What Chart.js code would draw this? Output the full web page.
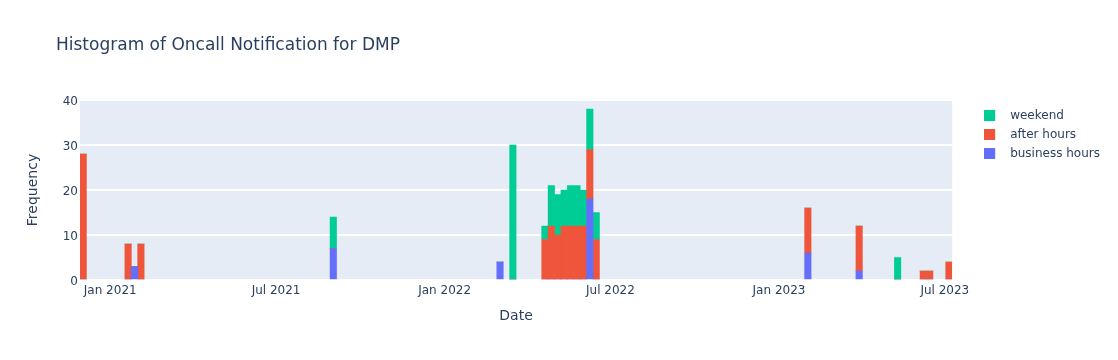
<!DOCTYPE html>
<html>
<head>
<meta charset="utf-8">
<script src="https://cdn.jsdelivr.net/npm/chart.js@4.4.1/dist/chart.umd.min.js"></script>
<style>
html,body{margin:0;padding:0;background:#ffffff;}
#wrap{width:1118px;height:360px;}
</style>
</head>
<body>
<div id="wrap"><canvas id="c" width="1118" height="360"></canvas></div>
<script>
// ---- data (weekly bins, start date of each bin) ----
const binStarts = ['2020-11-29','2021-01-17','2021-01-24','2021-01-31','2021-08-29','2022-02-27','2022-03-13',
  '2022-04-17','2022-04-24','2022-05-01','2022-05-08','2022-05-15','2022-05-22','2022-05-29','2022-06-05',
  '2022-06-12','2023-01-29','2023-03-26','2023-05-07','2023-06-04','2023-06-11','2023-07-02'];
const businessHours = [0,0,3,0,7,4,0,0,0,0,0,0,0,0,18,0,6,2,0,0,0,0];
const afterHours    = [28,8,0,8,0,0,0,9,12,10,12,12,12,12,11,9,10,10,0,2,2,4];
const weekend       = [0,0,0,0,7,0,30,3,9,9,8,9,9,8,9,6,0,0,5,0,0,0];

const xRange = ['2020-11-29','2023-07-09'];
const tickDates  = ['2021-01-01','2021-07-01','2022-01-01','2022-07-01','2023-01-01','2023-07-01'];
const tickLabels = ['Jan 2021','Jul 2021','Jan 2022','Jul 2022','Jan 2023','Jul 2023'];
const yTicks = [0,10,20,30,40];

const DAY = 86400000;
const BIN = 7 * DAY;
const TEXT = '#2a3f5f';
Chart.defaults.font.family = '"DejaVu Sans", "Open Sans", Verdana, Arial, sans-serif';
Chart.defaults.color = TEXT;

function series(values) {
  return binStarts.map((d, i) => ({ x: Date.parse(d) + BIN / 2, y: values[i] }));
}

function swatch(color) {
  const c = document.createElement('canvas');
  c.width = 20; c.height = 11;
  const g = c.getContext('2d');
  g.fillStyle = color;
  g.fillRect(0, 0, 11, 11);
  return c;
}

const plotBg = {
  id: 'plotBg',
  beforeDraw(chart, args, opts) {
    const {ctx, chartArea: {left, top, width, height}} = chart;
    ctx.save();
    ctx.fillStyle = opts.color;
    ctx.fillRect(left, top, width, height);
    ctx.restore();
  }
};
const titleShift = {
  id: 'titleShift',
  afterLayout(chart, args, opts) {
    if (chart.titleBlock) chart.titleBlock.left = opts.left;
  }
};

new Chart(document.getElementById('c'), {
  type: 'bar',
  data: {
    datasets: [
      { label: 'business hours', data: series(businessHours), backgroundColor: '#636efa' },
      { label: 'after hours', data: series(afterHours), backgroundColor: '#EF553B' },
      { label: 'weekend', data: series(weekend), backgroundColor: '#00cc96' }
    ].map(d => Object.assign(d, { borderWidth: 0, barPercentage: 1, categoryPercentage: 1, xAxisID: 'x', yAxisID: 'y' }))
  },
  plugins: [plotBg, titleShift],
  options: {
    responsive: false,
    animation: false,
    devicePixelRatio: 1,
    layout: { padding: { left: 0, right: 8, top: 0, bottom: 0 } },
    scales: {
      x: {
        type: 'linear',
        stacked: true,
        offset: false,
        min: Date.parse(xRange[0]),
        max: Date.parse(xRange[1]),
        grid: { display: false, offset: false, drawTicks: false },
        border: { display: false },
        afterBuildTicks(scale) { scale.ticks = tickDates.map(d => ({ value: Date.parse(d) })); },
        afterFit(scale) { scale.height = 80; },
        ticks: {
          autoSkip: false, maxRotation: 0, padding: 4,
          font: { size: 12 }, color: TEXT,
          callback: (v, i) => tickLabels[i]
        },
        title: { display: true, text: 'Date', color: TEXT, font: { size: 14 }, padding: { top: 4, bottom: 35 } }
      },
      y: {
        type: 'linear',
        position: 'left',
        stacked: true,
        min: 0, max: 40,
        grid: { color: '#ffffff', lineWidth: 2, drawTicks: false },
        border: { display: false },
        afterBuildTicks(scale) { scale.ticks = yTicks.map(v => ({ value: v })); },
        afterFit(scale) { scale.width = 80; },
        ticks: { padding: 2, labelOffset: 2, font: { size: 12 }, color: TEXT },
        title: { display: true, text: 'Frequency', color: TEXT, font: { size: 14 }, padding: { top: 24.6, bottom: 0 } }
      },
      gap: {
        type: 'linear',
        position: 'right',
        display: true,
        grid: { display: false, drawTicks: false },
        border: { display: false },
        ticks: { display: false },
        afterFit(scale) { scale.width = 25; }
      }
    },
    plugins: {
      plotBg: { color: '#E5ECF6' },
      titleShift: { left: 56 },
      title: {
        display: true,
        text: 'Histogram of Oncall Notification for DMP',
        align: 'start',
        color: TEXT,
        font: { size: 17, weight: 'normal' },
        padding: { top: 35.8, bottom: 43.8 }
      },
      legend: {
        display: true,
        position: 'right',
        align: 'start',
        fullSize: false,
        reverse: true,
        title: { display: true, text: '', padding: 0, font: { size: 1, lineHeight: '2.5px' } },
        labels: {
          usePointStyle: true,
          pointStyleWidth: 20,
          padding: 7,
          color: TEXT,
          font: { size: 12 },
          generateLabels(chart) {
            const items = Chart.defaults.plugins.legend.labels.generateLabels(chart);
            items.forEach(it => { it.pointStyle = swatch(it.fillStyle); });
            return items;
          }
        }
      },
      tooltip: { enabled: false }
    }
  }
});
</script>
</body>
</html>
